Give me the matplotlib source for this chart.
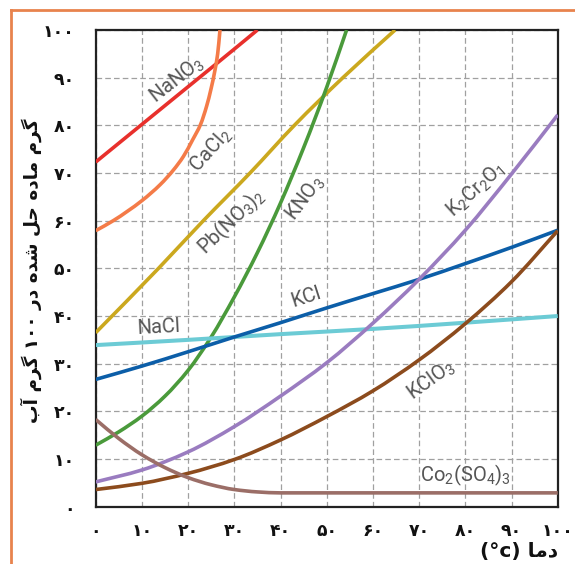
import matplotlib
matplotlib.use("Agg")
import matplotlib.pyplot as plt
from matplotlib.lines import Line2D
from matplotlib.path import Path
from matplotlib.patches import PathPatch

# ---------------- data ----------------
x_ticks = [0, 10, 20, 30, 40, 50, 60, 70, 80, 90, 100]
y_ticks = [0, 10, 20, 30, 40, 50, 60, 70, 80, 90, 100]

nano3_t = [0, 10, 20, 30, 35]
nano3_s = [72.3, 80.2, 88.1, 96.0, 100.0]

cacl2_t = [0, 3.8, 10, 14, 16.8, 19, 21, 22.7, 24, 25, 25.8, 26.4, 26.9]
cacl2_s = [57.9, 60, 64.2, 67.6, 70.6, 73.5, 77, 80.2, 84, 87.8, 91.5, 95, 100]

pbno32_t = [0, 13.6, 23.3, 33.4, 43, 53.5, 64.8]
pbno32_s = [36.5, 50, 60, 70, 80, 90, 100]

kno3_t = [0, 5, 10, 15, 20, 25, 30, 35, 40, 45, 50, 54.3]
kno3_s = [12.9, 15.7, 19.0, 23.2, 28.6, 35.6, 44.0, 53.3, 63.7, 75.3, 88.0, 100]

kcl_t = [0, 10, 20, 30, 40, 50, 60, 70, 80, 90, 100]
kcl_s = [26.7, 29.5, 32.5, 35.6, 38.6, 41.7, 44.7, 47.7, 51.0, 54.4, 58.0]

nacl_t = [0, 20, 40, 60, 80, 100]
nacl_s = [33.9, 35.0, 36.2, 37.3, 38.6, 40.0]

k2cr2o7_t = [0, 10, 20, 30, 40, 50, 60, 70, 80, 90, 100]
k2cr2o7_s = [5.2, 7.7, 11.5, 16.8, 23.2, 30.2, 38.5, 47.7, 58.0, 69.8, 82.2]

kclo3_t = [0, 10, 20, 30, 40, 50, 60, 70, 80, 90, 100]
kclo3_s = [3.6, 4.9, 7.0, 9.9, 14.0, 18.9, 24.3, 30.8, 38.4, 47.2, 57.9]

co2so43_t = [0, 5, 10, 15, 20, 25, 30, 35, 40, 50, 60, 70, 80, 90, 100]
co2so43_s = [18.3, 14.3, 10.9, 8.2, 6.1, 4.6, 3.6, 3.1, 2.9, 2.9, 2.9, 2.9, 2.9, 2.9, 2.9]

series = [
    ("NaNO$_3$", nano3_t, nano3_s, "#e8302c"),
    ("CaCl$_2$", cacl2_t, cacl2_s, "#f47b48"),
    ("Pb(NO$_3$)$_2$", pbno32_t, pbno32_s, "#cba81e"),
    ("KNO$_3$", kno3_t, kno3_s, "#4a9a3b"),
    ("NaCl", nacl_t, nacl_s, "#6ccbd5"),
    ("KCl", kcl_t, kcl_s, "#0c5ea8"),
    ("K$_2$Cr$_2$O$_1$", k2cr2o7_t, k2cr2o7_s, "#9a7cc0"),
    ("KClO$_3$", kclo3_t, kclo3_s, "#8c4b1d"),
    ("Co$_2$(SO$_4$)$_3$", co2so43_t, co2so43_s, "#9b6e67"),
]

y_label_text = "گرم ماده حل شده در ۱۰۰ گرم آب"
x_label_text = "دما (°c)"

# ---------------- Persian shaping (matplotlib has no shaping) ----------------
FORMS = {  # isolated, final, initial, medial
    'ا': ('\uFE8D', '\uFE8E', None, None),
    'آ': ('\uFE81', '\uFE82', None, None),
    'ب': ('\uFE8F', '\uFE90', '\uFE91', '\uFE92'),
    'ح': ('\uFEA1', '\uFEA2', '\uFEA3', '\uFEA4'),
    'د': ('\uFEA9', '\uFEAA', None, None),
    'ر': ('\uFEAD', '\uFEAE', None, None),
    'ش': ('\uFEB5', '\uFEB6', '\uFEB7', '\uFEB8'),
    'ل': ('\uFEDD', '\uFEDE', '\uFEDF', '\uFEE0'),
    'م': ('\uFEE1', '\uFEE2', '\uFEE3', '\uFEE4'),
    'ه': ('\uFEE9', '\uFEEA', '\uFEEB', '\uFEEC'),
    'گ': ('\uFB92', '\uFB93', '\uFB94', '\uFB95'),
}


def shape_word(w):
    if not any(c in FORMS for c in w):
        return w
    out = []
    for i, c in enumerate(w):
        if c not in FORMS:
            out.append(c)
            continue
        prev = w[i - 1] if i > 0 else None
        nxt = w[i + 1] if i + 1 < len(w) else None
        jp = prev in FORMS and FORMS[prev][2] is not None
        jn = nxt in FORMS and FORMS[c][2] is not None
        iso, fin, ini, med = FORMS[c]
        if jp and jn:
            out.append(med)
        elif jp:
            out.append(fin)
        elif jn:
            out.append(ini)
        else:
            out.append(iso)
    return "".join(reversed(out))


def rtl(s):
    return " ".join(shape_word(w) for w in reversed(s.split(" ")))


FA_DIGITS = str.maketrans("0123456789", "۰۱۲۳۴۵۶۷۸۹")


def fa(n):
    return str(n).translate(FA_DIGITS)


def smooth_path(t, s):
    """Cubic Bezier path through the read points (monotone tangents)."""
    n = len(t)
    h = [t[i + 1] - t[i] for i in range(n - 1)]
    dl = [(s[i + 1] - s[i]) / h[i] for i in range(n - 1)]
    m = [0.0] * n
    m[0], m[-1] = dl[0], dl[-1]
    for i in range(1, n - 1):
        if dl[i - 1] * dl[i] <= 0:
            m[i] = 0.0
        else:
            w1 = 2 * h[i] + h[i - 1]
            w2 = h[i] + 2 * h[i - 1]
            m[i] = (w1 + w2) / (w1 / dl[i - 1] + w2 / dl[i])
    verts = [(t[0], s[0])]
    codes = [Path.MOVETO]
    for i in range(n - 1):
        d = h[i] / 3.0
        verts += [(t[i] + d, s[i] + m[i] * d),
                  (t[i + 1] - d, s[i + 1] - m[i + 1] * d),
                  (t[i + 1], s[i + 1])]
        codes += [Path.CURVE4] * 3
    return Path(verts, codes)


# ---------------- figure ----------------
plt.rcParams['mathtext.default'] = 'regular'
fig = plt.figure(figsize=(5.75, 5.64), dpi=100)
ax = fig.add_axes([0.1664, 0.1016, 0.8036, 0.8452])

for name, t, s, col in series:
    lw = 2.9 if name == "NaCl" else 2.6
    ax.add_patch(PathPatch(smooth_path(t, s), facecolor='none', edgecolor=col,
                           lw=lw, capstyle='butt', zorder=3))

ax.set_xlim(0, 100)
ax.set_ylim(0, 100)
ax.set_xticks(x_ticks)
ax.set_yticks(y_ticks)
ax.set_xticklabels([fa(v) for v in x_ticks], fontfamily='DejaVu Sans',
                   fontweight='bold', fontsize=12.5)
ax.set_yticklabels([fa(v) for v in y_ticks], fontfamily='DejaVu Sans',
                   fontweight='bold', fontsize=12.5)
ax.tick_params(axis='x', length=0, pad=11, colors='#111111')
ax.tick_params(axis='y', length=0, pad=15, colors='#111111')
ax.grid(True, color='#a0a0a0', lw=0.9, linestyle=(0, (4.5, 2.5)))
ax.set_axisbelow(True)
for sp in ax.spines.values():
    sp.set_color('#222222')
    sp.set_linewidth(1.6)

# curve labels
lab = dict(family=['Roboto', 'DejaVu Sans'], fontweight='normal',
           fontsize=14.5, color='#555555', ha='center', va='center', zorder=4)
ax.text(17.6, 89.5, "NaNO$_3$", rotation=38, **lab)
ax.text(25.0, 74.8, "CaCl$_2$", rotation=48, **lab)
ax.text(29.3, 59.9, "Pb(NO$_3$)$_2$", rotation=44, **lab)
ax.text(45.3, 64.7, "KNO$_3$", rotation=53, **lab)
ax.text(82.3, 66.4, "K$_2$Cr$_2$O$_1$", rotation=42, **lab)
ax.text(45.5, 44.0, "KCl", rotation=18, **lab)
ax.text(13.7, 37.7, "NaCl", rotation=3, **lab)
ax.text(72.6, 26.6, "KClO$_3$", rotation=36, **lab)
lab2 = dict(lab); lab2['ha'] = 'left'
ax.text(70.2, 6.6, "Co$_2$(SO$_4$)$_3$", rotation=0, **lab2)

# axis titles
fig.text(31 / 575, 1 - 271 / 564, rtl(y_label_text), rotation=90,
         ha='center', va='center', fontfamily='DejaVu Sans',
         fontweight='bold', fontsize=13.3, color='#111111')
fig.text(558 / 575, 1 - 552 / 564, rtl(x_label_text), ha='right',
         va='center', fontfamily='DejaVu Sans', fontweight='bold',
         fontsize=14.5, color='#111111')

# orange frame (top and left edges)
orange = '#e8834d'
fig.add_artist(Line2D([11 / 575, 1.0], [1 - 10 / 564, 1 - 10 / 564],
                      transform=fig.transFigure, color=orange, lw=2))
fig.add_artist(Line2D([11 / 575, 11 / 575], [0.0, 1 - 10 / 564],
                      transform=fig.transFigure, color=orange, lw=2))

fig.savefig("out.png", dpi=100)
